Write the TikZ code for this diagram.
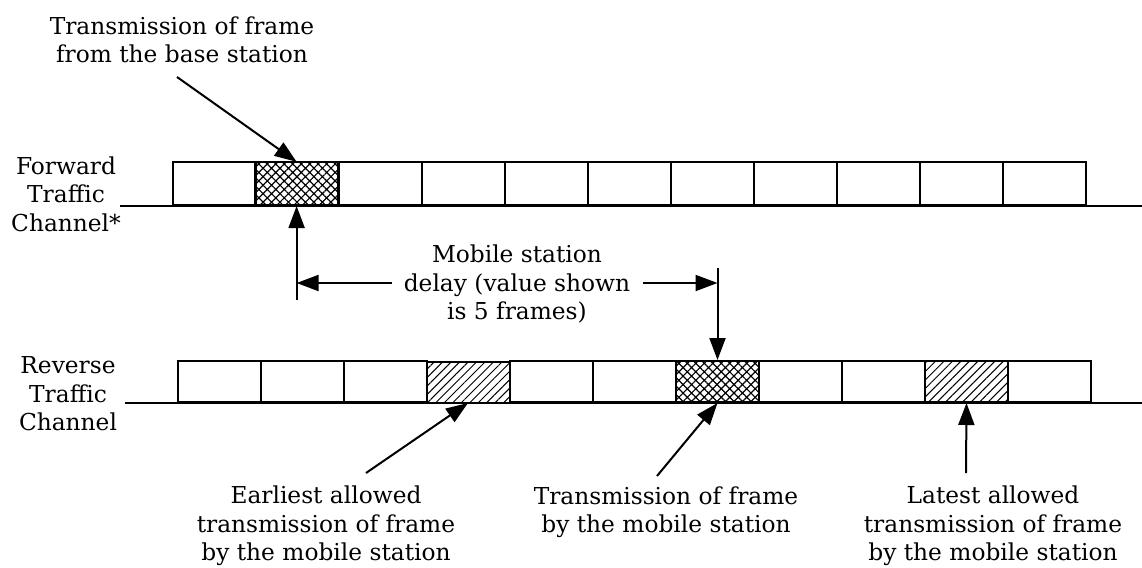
\documentclass[tikz,border=0pt]{standalone}
\usepackage{fontspec}
\setmainfont{DejaVu Serif}
\usetikzlibrary{arrows.meta,patterns.meta}
\begin{document}
\begin{tikzpicture}[x=1pt,y=-1pt,
  fbox/.style={draw, line width=2pt, minimum width=83pt, minimum height=43pt, inner sep=0pt, anchor=south west},
  rbox/.style={fbox, minimum height=41pt},
  cross/.style={pattern={Hatch[angle=45,distance=6pt,line width=1.2pt]}},
  diag/.style={pattern={Lines[angle=45,distance=6pt,line width=1pt]}},
  arr/.style={line width=2pt, -{Triangle[length=22pt,width=16pt]}},
  base/.style={line width=2pt},
  lbl/.style={align=center, inner sep=0pt, font=\fontsize{23.3}{28.5}\selectfont}]
\useasboundingbox (0,0) rectangle (1142,567);

% baselines
\coordinate (fb0) at (120,206);
\coordinate (fb1) at (1142,206);
\coordinate (rb0) at (125,403);
\coordinate (rb1) at (1142,403);
\draw[base] (fb0) -- (fb1);
\draw[base] (rb0) -- (rb1);

% forward frames
\foreach \k in {1,...,11}{
  \pgfmathsetmacro{\xx}{171.5+83*(\k-1)}
  \ifnum\k=2
    \node[fbox,cross] (f\k) at (\xx,206) {};
  \else
    \node[fbox] (f\k) at (\xx,206) {};
  \fi
}
% reverse frames
\foreach \k in {1,...,11}{
  \pgfmathsetmacro{\xx}{177+83*(\k-1)}
  \ifnum\k=7
    \node[rbox,cross] (r\k) at (\xx,403) {};
  \else\ifnum\k=4
    \node[rbox,diag] (r\k) at (\xx,403) {};
  \else\ifnum\k=10
    \node[rbox,diag] (r\k) at (\xx,403) {};
  \else
    \node[rbox] (r\k) at (\xx,403) {};
  \fi\fi\fi
}

% labels
\node[lbl] (tbase) at (182,40) {Transmission of frame\\from the base station};
\node[lbl] (fwd) at (66,194) {Forward\\Traffic\\Channel*};
\node[lbl] (rev) at (68,394) {Reverse\\Traffic\\Channel};
\node[lbl] (delay) at (517,284) {Mobile station\\delay (value shown\\is 5 frames)};
\node[lbl] (early) at (326,526) {Earliest allowed\\transmission of frame\\by the mobile station};
\node[lbl] (tmob) at (666,512) {Transmission of frame\\by the mobile station};
\node[lbl] (late) at (993,526) {Latest allowed\\transmission of frame\\by the mobile station};

% connectors
\coordinate (c1) at (177,77);
\draw[arr] (c1) -- (f2.north);
\coordinate (c2) at (f2.south |- 0,300);
\draw[arr] (c2) -- (f2.south);
\coordinate (c3) at (392,283);
\coordinate (c4) at (c2 |- c3);
\draw[arr] (c3) -- (c4);
\coordinate (c5) at (643,283);
\coordinate (c6) at (r7.north |- c5);
\draw[arr] (c5) -- (c6);
\coordinate (c7) at (r7.north |- 0,268);
\draw[arr] (c7) -- (r7.north);
\coordinate (e1) at (366,473);
\draw[arr] (e1) -- (r4.south);
\coordinate (t1) at (657,476);
\draw[arr] (t1) -- (r7.south);
\coordinate (l1) at (966,473);
\draw[arr] (l1) -- (r10.south);
\end{tikzpicture}
\end{document}
